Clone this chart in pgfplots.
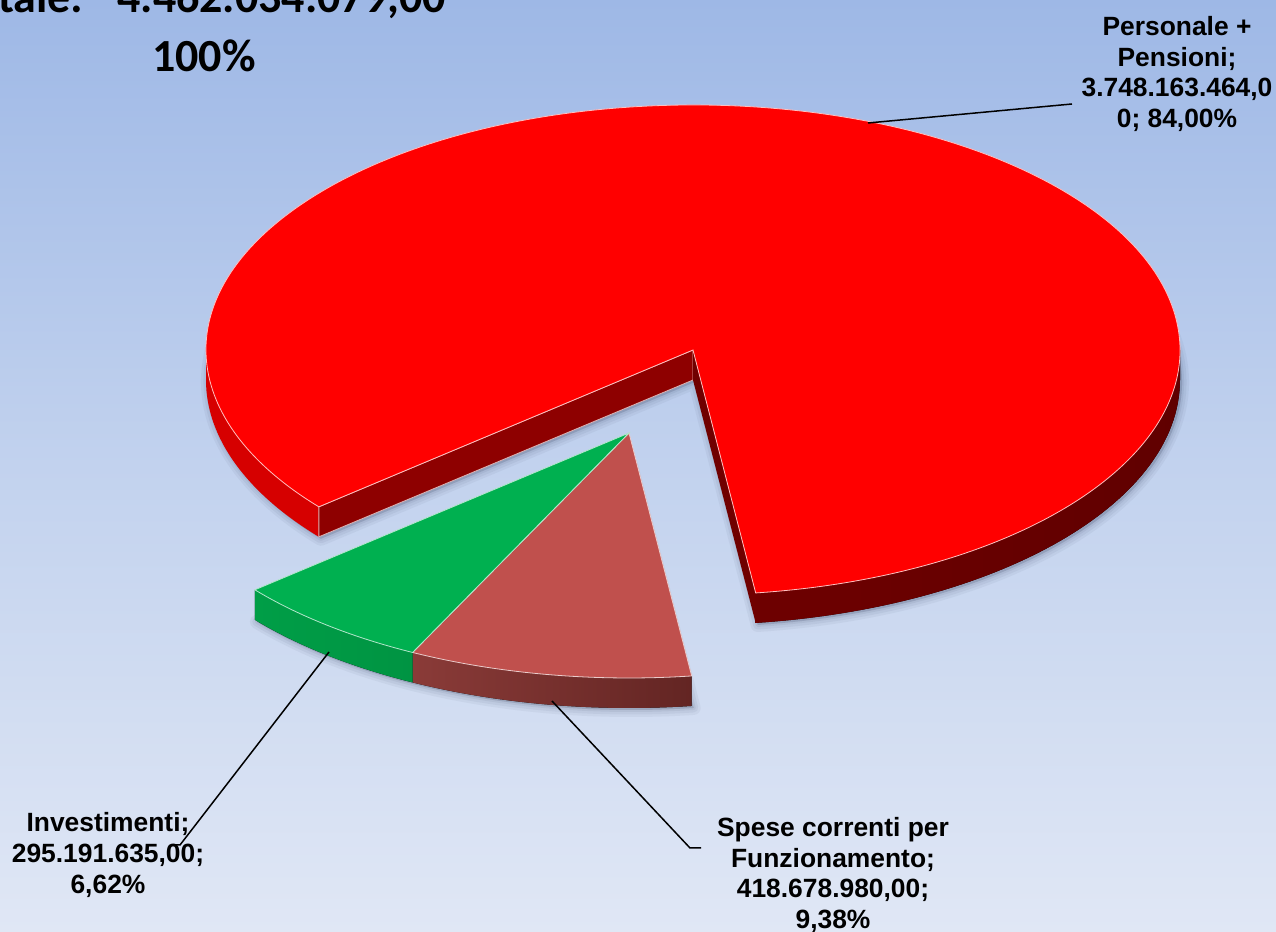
\documentclass[border=0pt]{standalone}
\usepackage{pgfplots}
\usepackage{pgfplotstable}
\pgfplotsset{compat=1.18}
\usepackage{fontspec}
\setmainfont{Liberation Sans}
\newfontfamily\calibri{Carlito}

% valori in milioni di euro
\pgfplotstableread{
label value
Personale 3748.163464
Spese 418.678980
Investimenti 295.191635
}\slices

\definecolor{bgtop}{RGB}{158,184,230}
\definecolor{bgmid}{RGB}{194,210,238}
\definecolor{bgbot}{RGB}{224,231,245}
\definecolor{rosso}{RGB}{255,0,0}
\definecolor{rossoL}{RGB}{214,0,0}
\definecolor{rossoC}{RGB}{142,0,0}
\definecolor{rossoD}{RGB}{112,0,0}
\definecolor{rossoW}{RGB}{96,0,0}
\definecolor{mattone}{RGB}{192,80,77}
\definecolor{mattoneL}{RGB}{138,59,56}
\definecolor{mattoneR}{RGB}{99,37,35}
\definecolor{verde}{RGB}{0,176,80}
\definecolor{verdeL}{RGB}{0,158,71}
\definecolor{verdeR}{RGB}{0,134,60}
\definecolor{ombra}{RGB}{40,50,80}

\pgfplotstablegetelem{0}{value}\of\slices \let\vP\pgfplotsretval
\pgfplotstablegetelem{1}{value}\of\slices \let\vS\pgfplotsretval
\pgfplotstablegetelem{2}{value}\of\slices \let\vI\pgfplotsretval
\pgfmathsetmacro\tot{\vP+\vS+\vI}
\def\Aend{579.8}
\pgfmathsetmacro\aP{\Aend-360*(\vP/\tot)}   % inizio rosso
\pgfmathsetmacro\aS{\aP-360*(\vS/\tot)}     % inizio marrone
\pgfmathsetmacro\aI{\aS-360*(\vI/\tot)}     % inizio verde
\pgfmathsetmacro\aL{\Aend-360}

% raggi dell'ellisse (1 px = 0.5pt)
\def\RR{243.5pt and 122.5pt}
\def\arcR#1#2{arc[start angle=#1, end angle=#2, x radius=243.5pt, y radius=122.5pt]}
% ombra sfumata sotto la fetta: centro abbassato, angoli
\newcommand\ombra[4]{%
  \filldraw[ombra, opacity=0.05, line width=7pt, line join=round] (axis cs:#1,#2) -- ++(#3:\RR) \arcR{#3}{#4} -- cycle;
  \filldraw[ombra, opacity=0.06, line width=4.5pt, line join=round] (axis cs:#1,#2) -- ++(#3:\RR) \arcR{#3}{#4} -- cycle;
  \filldraw[ombra, opacity=0.07, line width=2pt, line join=round] (axis cs:#1,#2) -- ++(#3:\RR) \arcR{#3}{#4} -- cycle;
}

\begin{document}
\begin{tikzpicture}
\path[use as bounding box] (0,0) rectangle (638pt,466pt);
\begin{scope}
\clip (0,0) rectangle (638pt,466pt);
\begin{axis}[
    scale only axis,
    width=638pt, height=466pt,
    xmin=0, xmax=1276, ymin=0, ymax=932,
    hide axis,
    clip=false,
]
% sfondo
\fill[top color=bgtop, bottom color=bgbot, middle color=bgmid]
    (axis cs:0,0) rectangle (axis cs:1276,932);

% ombre
\ombra{695}{550}{\aP}{\Aend}
\ombra{631}{467}{\aI}{\aP}

% --- Personale + Pensioni (esploso) ---
\begin{scope}[draw=white, line width=0.4pt]
\fill[rossoL] (axis cs:693,582) ++(180:\RR) \arcR{180}{\aL}
    -- ++(0,-15pt) \arcR{\aL}{180} -- cycle;
\fill[left color=rossoD, right color=rossoW] (axis cs:693,582) ++(\aP:\RR) \arcR{\aP}{360}
    -- ++(0,-15pt) \arcR{360}{\aP} -- cycle;
\filldraw[rossoC, draw=white!70!rossoC] (axis cs:693,582) -- ++(\Aend:\RR) -- ++(0,-15pt)
    -- (axis cs:693,552) -- cycle;
\fill[rossoD] (axis cs:693,582) -- ++(\aP:\RR) -- ++(0,-15pt)
    -- (axis cs:693,552) -- cycle;
\filldraw[rosso, draw=white!75!rosso] (axis cs:693,582) -- ++(\aP:\RR) \arcR{\aP}{\Aend} -- cycle;

% --- Spese correnti per Funzionamento ---
\fill[left color=mattoneL, right color=mattoneR] (axis cs:629,499) ++(\aS:\RR) \arcR{\aS}{\aP}
    -- ++(0,-15pt) \arcR{\aP}{\aS} -- cycle;
\filldraw[mattone, draw=white!70!mattone] (axis cs:629,499) -- ++(\aS:\RR) \arcR{\aS}{\aP} -- cycle;

% --- Investimenti ---
\fill[left color=verdeL, right color=verdeR] (axis cs:629,499) ++(\aI:\RR) \arcR{\aI}{\aS}
    -- ++(0,-15pt) \arcR{\aS}{\aI} -- cycle;
\filldraw[verde, draw=white!70!verde] (axis cs:629,499) -- ++(\aI:\RR) \arcR{\aI}{\aS} -- cycle;
\end{scope}

% linee di richiamo
\draw[black, line width=0.75pt] (axis cs:868,809) -- (axis cs:1072,828);
\draw[black, line width=0.75pt] (axis cs:329,280) -- (axis cs:180,87) -- (axis cs:172,87);
\draw[black, line width=0.75pt] (axis cs:552,231) -- (axis cs:690,84) -- (axis cs:701,84);

% etichette
\begin{scope}[every node/.style={font=\bfseries\fontsize{13.2}{15.4}\selectfont, align=center, inner sep=0pt}]
\node at (axis cs:1177,858) {Personale +\\Pensioni;\\3.748.163.464,0\\0; 84,00\%};
\node at (axis cs:108,77) {Investimenti;\\295.191.635,00;\\6,62\%};
\node at (axis cs:833,57) {Spese correnti per\\Funzionamento;\\418.678.980,00;\\9,38\%};
\end{scope}

% titolo
\node[anchor=base east, inner sep=0pt, font=\calibri\bfseries\fontsize{23}{27}\selectfont] at (axis cs:84,919) {Totale:};
\node[anchor=base west, inner sep=0pt, font=\calibri\bfseries\fontsize{23}{27}\selectfont] at (axis cs:117,919) {4.462.034.079,00};
\node[anchor=base, inner sep=0pt, font=\calibri\bfseries\fontsize{23}{27}\selectfont] at (axis cs:204,860) {100\%};
\end{axis}
\end{scope}
\end{tikzpicture}
\end{document}
